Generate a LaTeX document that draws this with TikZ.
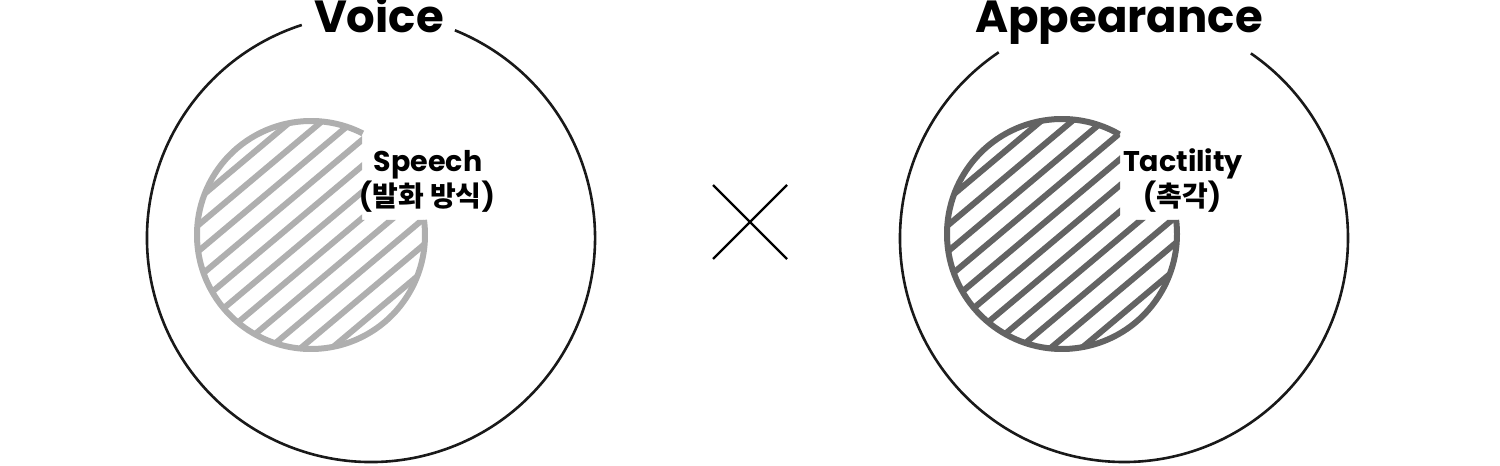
\documentclass[tikz,border=0pt]{standalone}
\usepackage{fontspec}
\usetikzlibrary{calc}
\setmainfont{Poppins}
\newfontfamily\krfont{Noto Sans CJK KR}
\begin{document}
\begin{tikzpicture}[x=1pt,y=1pt,
  outer/.style={line width=2.6pt,black!90},
  inner/.style={line width=6pt},
  hatch/.style={line width=6pt},
  title/.style={anchor=base,inner sep=0pt,font=\fontsize{45}{45}\selectfont\bfseries},
  lab/.style={anchor=base,inner sep=0pt,font=\fontsize{28.5}{28.5}\selectfont\bfseries},
  krlab/.style={anchor=base,inner sep=0pt,font=\fontsize{28}{28}\selectfont\bfseries},
  cross/.style={line width=2.4pt,black}]
\useasboundingbox (0,0) rectangle (1500,466);
\definecolor{lightg}{HTML}{AFAFAF}
\definecolor{darkg}{HTML}{636363}
% centres
\coordinate (lo) at (371,228);
\coordinate (ro) at (1124,228);
\coordinate (li) at (311,231);
\coordinate (ri) at (1062,232);
% outer circles with gaps for the titles
\draw[outer] (lo) ++(108:224) arc[start angle=108,end angle=428,radius=224];
\draw[outer] (ro) ++(124:224) arc[start angle=124,end angle=415.5,radius=224];
\node[title] (voice) at (379,433) {Voice};
\node[title] (appear) at (1119,433) {Appearance};
% left inner hatched circle
\draw[inner,lightg] (li) ++(63:114) arc[start angle=63,end angle=367.6,radius=114];
\begin{scope}
  \clip (li) circle (114);
  \clip (0,0) -- (700,0) -- (700,246) -- (362,246) -- (362,466) -- (0,466) -- cycle;
  \foreach \k in {-5,...,5} {
    \draw[hatch,lightg] ($(li)+(\k*20*-0.643,\k*20*0.766)+(-130*0.766,-130*0.643)$) -- ++(260*0.766,260*0.643);
  }
\end{scope}
% right inner hatched circle
\draw[inner,darkg] (ri) ++(60:115) arc[start angle=60,end angle=367,radius=115];
\begin{scope}
  \clip (ri) circle (115);
  \clip (740,0) -- (1500,0) -- (1500,246) -- (1120,246) -- (1120,466) -- (740,466) -- cycle;
  \foreach \k in {-5,...,5} {
    \draw[hatch,darkg] ($(ri)+(\k*20*-0.643,\k*20*0.766)+(-130*0.766,-130*0.643)$) -- ++(260*0.766,260*0.643);
  }
\end{scope}
% labels
\node[lab] (speech) at (428,294) {Speech};
\node[krlab] (speechkr) at (427,259) {({\krfont 발화 방식})};
\node[lab] (tact) at (1183,294) {Tactility};
\node[krlab] (tactkr) at (1182,259) {({\krfont 촉각})};
% cross
\coordinate (xa) at (713,281);
\coordinate (xb) at (787,207);
\coordinate (xc) at (713,207);
\coordinate (xd) at (787,281);
\draw[cross] (xa) -- (xb);
\draw[cross] (xc) -- (xd);
\end{tikzpicture}
\end{document}
